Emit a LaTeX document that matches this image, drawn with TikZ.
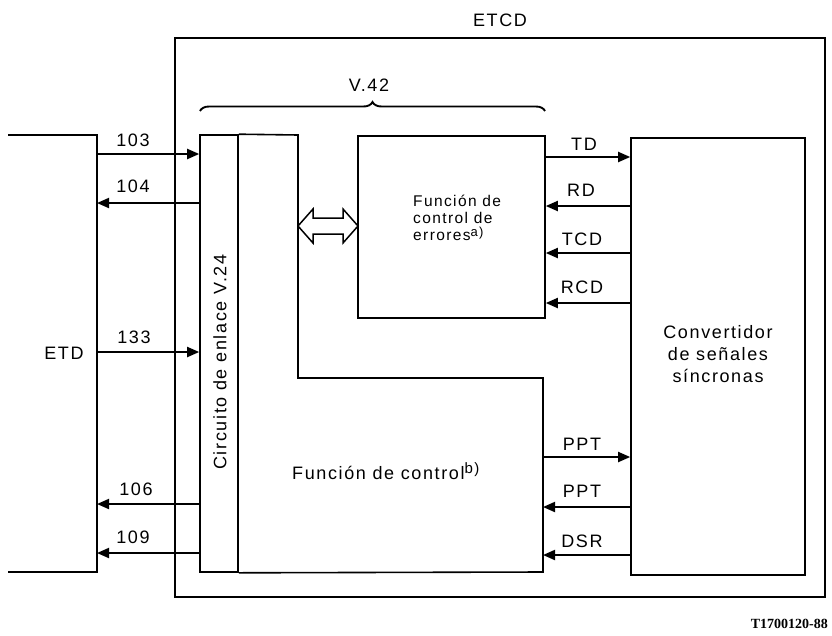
\documentclass[tikz,border=0pt]{standalone}
\usepackage{fontspec}
\setmainfont{Liberation Sans}[LetterSpace=9]
\newfontfamily\codefont{Liberation Serif}
\usetikzlibrary{arrows.meta,decorations.pathreplacing}
\begin{document}
\begin{tikzpicture}[x=1pt,y=-1pt,
  box/.style={draw, line width=1.6pt, inner sep=0pt},
  line/.style={line width=1.6pt},
  sig/.style={line width=1.9pt, -{Triangle[length=12pt,width=10pt]}},
  lab/.style={font=\fontsize{18}{20}\selectfont, inner sep=0pt, anchor=base}]
\useasboundingbox (0,0) rectangle (832,635);

% outer ETCD box
\node[box, minimum width=650pt, minimum height=559pt] (etcd) at (500,317.5) {};
\node[lab] (etcdlab) at (500,26) {ETCD};

% ETD side
\draw[line] (8,135) -- (97,135) -- (97,572) -- (8,572);
\node[lab] (etdlab) at (64,359) {ETD};
\coordinate (e103) at (97,154);
\coordinate (e104) at (97,203);
\coordinate (e133) at (97,352);
\coordinate (e106) at (97,504);
\coordinate (e109) at (97,553);

% Circuito de enlace
\node[box, minimum width=38pt, minimum height=437pt] (circ) at (219,353.5) {};
\node[lab, anchor=center, rotate=90] (circlab) at (220,362) {Circuito de enlace V.24};

% control function (L shape)
\coordinate (ctl) at (543,378);
\draw[line] (circ.north east) -- (298,135) -- (298,378) -- (ctl) -- (543,572) -- (circ.south east);
\node[lab, anchor=base west] (ctltxt) at (292,479) {Función de control\raisebox{6pt}{\fontsize{15}{15}\selectfont b)}};

% error control box
\node[box, minimum width=187pt, minimum height=182pt] (err) at (451.5,227) {};
\node[font=\fontsize{15.5}{17}\selectfont, align=left, anchor=base west, inner sep=0pt] (errtxt) at (413,240) {Función de\\control de\\errores\raisebox{4pt}{\fontsize{13}{13}\selectfont a)}};

% converter box
\node[box, minimum width=174pt, minimum height=437pt] (conv) at (718,356.5) {};
\node[font=\fontsize{18}{22}\selectfont, align=center, anchor=base, inner sep=0pt] (convtxt) at (718,382) {Convertidor\\de señales\\síncronas};

% V.42 brace
\draw[line width=1.9pt, decorate, decoration={brace, amplitude=9pt}] (200,111) -- (545,111);
\node[lab] (v42) at (369,91) {V.42};

% double arrow
\draw[line width=1.5pt, fill=white] (298,226) -- (313,209) -- (313,218) -- (343,218) -- (343,209) -- (358,226) -- (343,243) -- (343,234) -- (313,234) -- (313,243) -- cycle;

% left signals
\draw[sig] (e103) -- (circ.west |- e103);
\draw[sig] (circ.west |- e104) -- (e104);
\draw[sig] (e133) -- (circ.west |- e133);
\draw[sig] (circ.west |- e106) -- (e106);
\draw[sig] (circ.west |- e109) -- (e109);
\node[lab] at (133,146) {103};
\node[lab] at (133,192) {104};
\node[lab] at (134,343) {133};
\node[lab] at (136,495) {106};
\node[lab] at (133,543) {109};

% right signals
\coordinate (yTD) at (0,157);
\coordinate (yRD) at (0,206);
\coordinate (yTCD) at (0,253);
\coordinate (yRCD) at (0,303);
\coordinate (yP1) at (0,457);
\coordinate (yP2) at (0,507);
\coordinate (yDSR) at (0,555);
\draw[sig] (err.east |- yTD) -- (conv.west |- yTD);
\draw[sig] (conv.west |- yRD) -- (err.east |- yRD);
\draw[sig] (conv.west |- yTCD) -- (err.east |- yTCD);
\draw[sig] (conv.west |- yRCD) -- (err.east |- yRCD);
\draw[sig] (ctl |- yP1) -- (conv.west |- yP1);
\draw[sig] (conv.west |- yP2) -- (ctl |- yP2);
\draw[sig] (conv.west |- yDSR) -- (ctl |- yDSR);
\node[lab] at (584,150) {TD};
\node[lab] at (581,196) {RD};
\node[lab] at (582,245) {TCD};
\node[lab] at (582,293) {RCD};
\node[lab] at (582,450) {PPT};
\node[lab] at (582,497) {PPT};
\node[lab] at (582,547) {DSR};

% figure code
\node[font=\codefont\bfseries\fontsize{14}{14}\selectfont, anchor=base east, inner sep=0pt] (code) at (828,628) {T1700120-88};
\end{tikzpicture}
\end{document}
